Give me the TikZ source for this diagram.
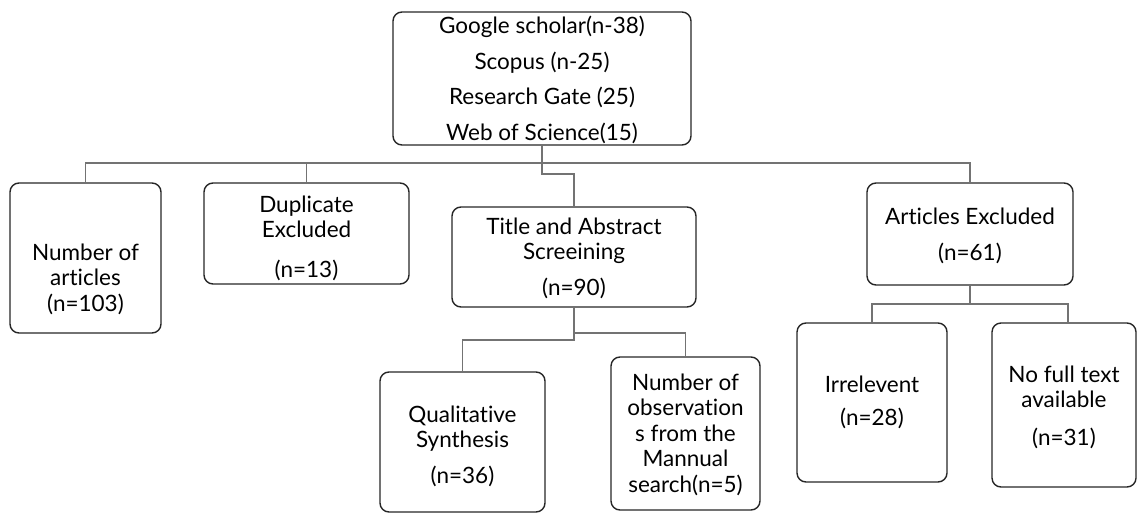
\documentclass[tikz,border=0pt]{standalone}
\usepackage{fontspec}
\setmainfont{Lato}[Ligatures={NoCommon,NoDiscretionary}]
\begin{document}
\begin{tikzpicture}[x=1pt,y=-1pt,
  box/.style={draw=black!85,line width=1.4pt,rounded corners=9pt,inner sep=0pt},
  conn/.style={draw=black!55,line width=1.8pt},
  txt/.style={align=center,inner sep=0pt,font=\fontsize{22.5}{25.5}\selectfont,text=black}]
\useasboundingbox (0,0) rectangle (1137,514);
% boxes
\node[box,minimum width=298pt,minimum height=133pt] (top) at (542,78.5) {};
\node[box,minimum width=151pt,minimum height=150pt] (na) at (85.5,258) {};
\node[box,minimum width=205pt,minimum height=101pt] (dup) at (306.5,233.5) {};
\node[box,minimum width=244pt,minimum height=100pt] (title) at (574,257) {};
\node[box,minimum width=206pt,minimum height=102pt] (ae) at (970,234) {};
\node[box,minimum width=165pt,minimum height=140pt] (qual) at (462.5,442) {};
\node[box,minimum width=149pt,minimum height=153pt] (nobs) at (685.5,433.5) {};
\node[box,minimum width=150pt,minimum height=159pt] (irr) at (872,402.5) {};
\node[box,minimum width=144pt,minimum height=164pt] (nft) at (1064,405) {};
% texts
\node[txt] (topt) at (542,80) {Google scholar(n-38)\\[10pt]Scopus (n-25)\\[10pt]Research Gate (25)\\[10pt]Web of Science(15)};
\node[txt] (nat) at (85.5,279) {Number of\\articles\\(n=103)};
\node[txt] (dupt) at (306.5,238) {Duplicate\\Excluded\\[14pt](n=13)};
\node[txt] (titlet) at (574,258) {Title and Abstract\\Screeining\\[10pt](n=90)};
\node[txt] (aet) at (970,236) {Articles Excluded\\[10pt](n=61)};
\node[txt] (qualt) at (462.5,446) {Qualitative\\Synthesis\\[10pt](n=36)};
\node[txt] (nobst) at (685.5,434.5) {Number of\\observation\\s from the\\Mannual\\search(n=5)};
\node[txt] (irrt) at (872,402.5) {Irrelevent\\[8pt](n=28)};
\node[txt] (nftt) at (1064,407) {No full text\\available\\[12pt](n=31)};
% connectors
\draw[conn] (na.north) -- ++(0,-19) -| (ae.north);
\draw[conn] (dup.north) -- ++(0,-19);
\draw[conn] (top.south) -- ++(0,28) -| (title.north);
\draw[conn] (title.south) -- ++(0,25) -| (nobs.north);
\draw[conn] (title.south) -- ++(0,32) -| (qual.north);
\draw[conn] (ae.south) -- ++(0,18) -| (irr.north);
\draw[conn] (ae.south) -- ++(0,18) -| ([xshift=4pt]nft.north);
\end{tikzpicture}
\end{document}
